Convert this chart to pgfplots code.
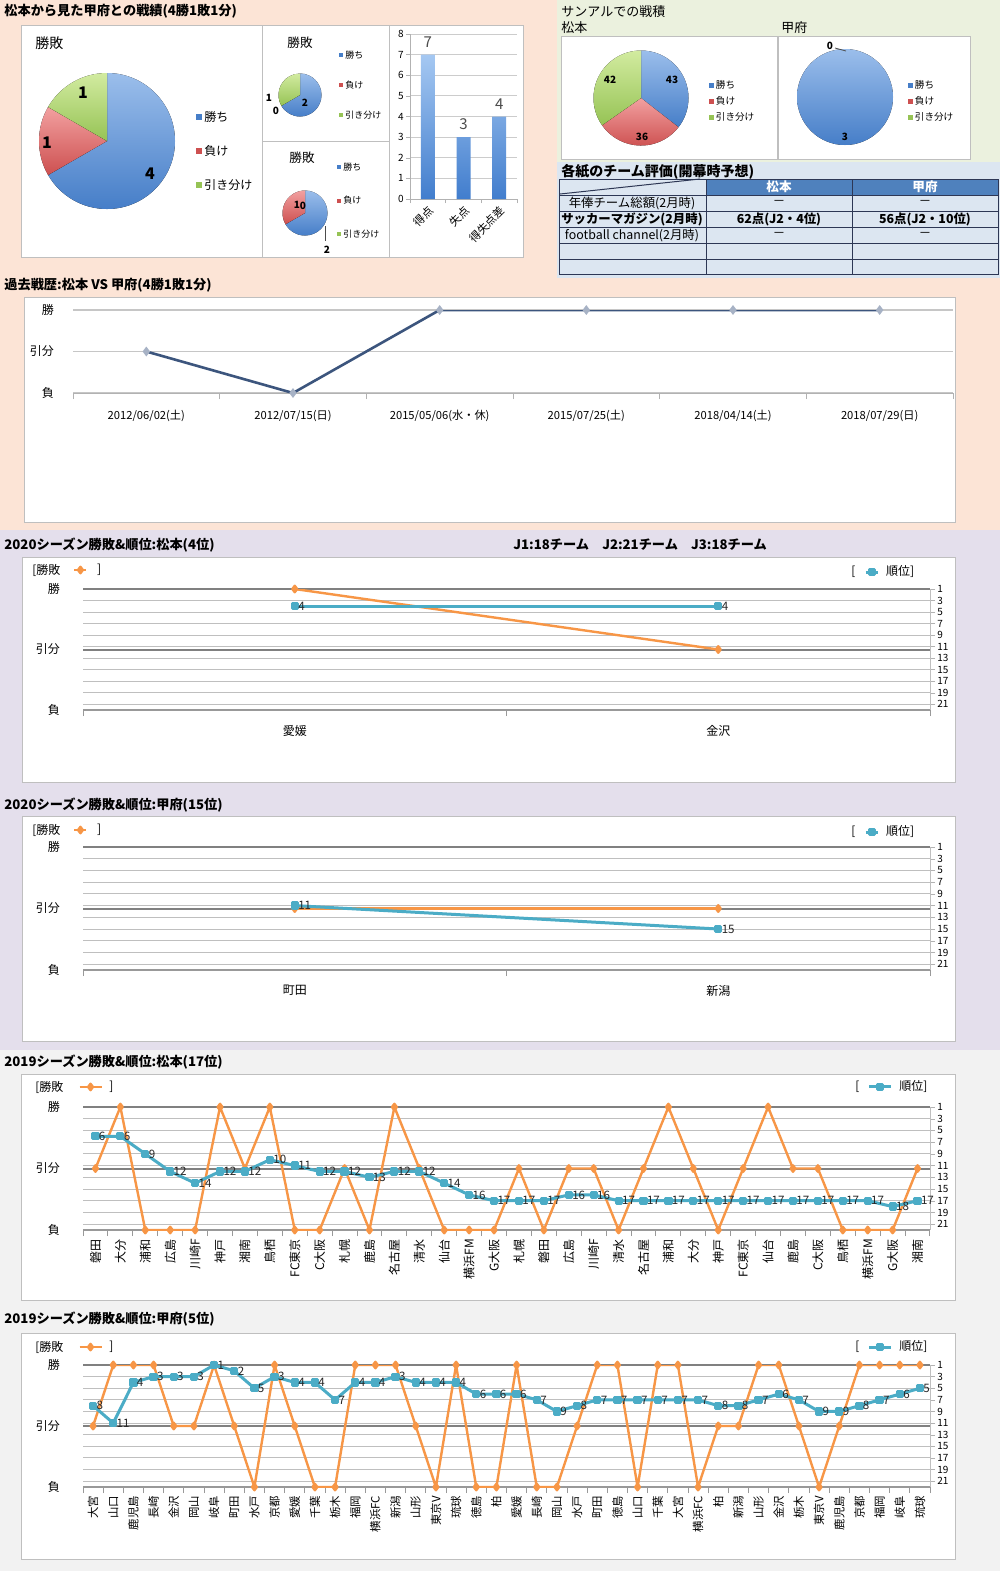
\documentclass[border=0pt]{standalone}
\usepackage{fontspec}
\setmainfont{Noto Sans CJK JP}
\usepackage{pgfplots}
\pgfplotsset{compat=1.18}
\usetikzlibrary{shapes.geometric}

\definecolor{peach}{RGB}{252,228,214}
\definecolor{greenbg}{RGB}{235,241,222}
\definecolor{tabbg}{RGB}{220,230,241}
\definecolor{lav}{RGB}{228,223,236}
\definecolor{grayb}{RGB}{242,242,242}
\definecolor{boxc}{RGB}{191,191,191}
\definecolor{orng}{RGB}{247,150,70}
\definecolor{tealc}{RGB}{75,172,198}
\definecolor{navy}{RGB}{60,85,125}
\definecolor{hdr}{RGB}{79,129,189}
\definecolor{tabl}{RGB}{45,55,85}
\definecolor{pbA}{RGB}{155,190,235}
\definecolor{pbB}{RGB}{70,126,200}
\definecolor{prA}{RGB}{242,160,160}
\definecolor{prB}{RGB}{205,80,80}
\definecolor{pgA}{RGB}{210,235,160}
\definecolor{pgB}{RGB}{150,195,85}
\definecolor{bbA}{RGB}{165,200,242}
\definecolor{bbB}{RGB}{65,125,205}

\newcommand\fz[1]{\fontsize{#1}{#1}\selectfont}
\newcommand\fT{\fz{6.6}\bfseries}

% pie: centre x, centre y, radius, win, loss, draw (clockwise from the top)
\newcommand\pie[6]{%
  \pgfmathsetmacro\ptot{#4+#5+#6}%
  \pgfmathsetmacro\pa{90-360*#4/\ptot}%
  \pgfmathsetmacro\pb{\pa-360*#5/\ptot}%
  \begin{scope}[shift={(#1,#2)},y=0.5pt]
    \ifnum#4>0 \fill[top color=pbA,bottom color=pbB] (0,0) -- (90:#3) arc[start angle=90,end angle=\pa,radius=#3] -- cycle;\fi
    \ifnum#5>0 \fill[top color=prA,bottom color=prB] (0,0) -- (\pa:#3) arc[start angle=\pa,end angle=\pb,radius=#3] -- cycle;\fi
    \ifnum#6>0 \fill[top color=pgA,bottom color=pgB] (0,0) -- (\pb:#3) arc[start angle=\pb,end angle=-270,radius=#3] -- cycle;\fi
  \end{scope}}
% pie legend: x, first y, step, square size, font size
\newcommand\pleg[5]{%
  \foreach \c/\t [count=\i from 0] in {pbB/勝ち,prB/負け,pgB/引き分け}{
    \fill[\c] ({#1-#4/2},{#2+\i*#3-#4/2}) rectangle ++(#4,#4);
    \node[anchor=west,inner sep=0pt,font=\fz{#5}] at ({#1+#4/2+2},{#2+\i*#3}) {\t};}}

\pgfplotsset{
  /pgf/number format/assume math mode=true,
  wl/.style={scale only axis, width=423.5pt, anchor=south west,
    ymin=-1, ymax=1, ytick={-1,0,1}, yticklabels={負,引分,勝},
    axis x line*=bottom, axis y line*=left, axis line style={-},
    y axis line style={draw=none}, ytick style={draw=none},
    x axis line style={gray!80, line width=0.6pt},
    ymajorgrids, major grid style={gray, line width=1pt},
    extra y ticks={0.8095,0.6190,0.4286,0.2381,0.0476,-0.1429,-0.3333,-0.5238,-0.7143,-0.9048},
    extra y tick labels={},
    extra y tick style={major grid style={gray!50, line width=0.5pt}, ytick style={draw=none}},
    xtick style={draw=none},
    extra x tick labels={},
    extra x tick style={xtick style={draw=gray!80, line width=0.5pt}, major tick length=3pt, tick align=outside},
    yticklabel style={font=\fz{6}, xshift=-8pt},
    legend style={anchor=west, draw=none, fill=none, inner sep=0pt, font=\fz{6}},
  },
  wr/.style={scale only axis, width=423.5pt, anchor=south west,
    ymin=1, ymax=22, y dir=reverse, ytick={1,3,...,21},
    hide x axis, axis y line*=right, axis line style={-},
    y axis line style={gray!50}, ytick style={gray!60}, tick align=outside, major tick length=2.5pt,
    yticklabel style={font=\fz{5}, inner sep=1pt},
    legend style={anchor=west, draw=none, fill=none, inner sep=0pt, font=\fz{6}},
  },
  lgLong/.style={legend image code/.code={\draw[mark repeat=2,mark phase=2,##1] plot coordinates {(0pt,0pt)(5.5pt,0pt)(11pt,0pt)};}},
  lgShort/.style={legend image code/.code={\draw[mark repeat=2,mark phase=2,##1] plot coordinates {(0pt,0pt)(3pt,0pt)(6pt,0pt)};}},
  orS/.style={orng, line width=1.2pt, line join=round, mark=diamond*, mark size=1.6pt, mark options={fill=orng, draw=orng}},
  blS/.style={tealc, line width=1.5pt, line join=round, mark=square*, mark size=1.3pt, mark options={fill=tealc, draw=tealc},
    nodes near coords, nodes near coords style={anchor=west, font=\fz{5.8}, text=black!85, inner sep=1pt}},
}

\begin{document}
\begin{tikzpicture}[x=0.5pt,y=-0.5pt]
\useasboundingbox (0,0) rectangle (1000,1571);
\fill[peach] (0,0) rectangle (1000,530);
\fill[greenbg] (557,0) rectangle (1000,162);
\fill[tabbg] (557,162) rectangle (1000,278);
\fill[lav] (0,530) rectangle (1000,1050);
\fill[grayb] (0,1050) rectangle (1000,1571);

% ---------- top left: results from Matsumoto's side
\node[anchor=west,inner sep=0pt,font=\fT] at (4,11) {松本から見た甲府との戦績(4勝1敗1分)};
\draw[boxc,fill=white,line width=0.5pt] (21,25) rectangle (262,257);
\draw[boxc,fill=white,line width=0.5pt] (262,25) rectangle (389,141);
\draw[boxc,fill=white,line width=0.5pt] (262,141) rectangle (389,257);
\draw[boxc,fill=white,line width=0.5pt] (389,25) rectangle (523,257);

\node[anchor=west,inner sep=0pt,font=\fz{7}] at (35,43) {勝敗};
\pie{107}{141}{68}{4}{1}{1}
\node[font=\fz{8}\bfseries] at (150,174) {4};
\node[font=\fz{8}\bfseries] at (47,143) {1};
\node[font=\fz{8}\bfseries] at (83,93) {1};
\pleg{199}{117}{34}{6}{6}

\node[anchor=west,inner sep=0pt,font=\fz{6.3}] at (287,43) {勝敗};
\pie{300}{95}{21.5}{2}{0}{1}
\node[font=\fz{5}\bfseries] at (305,103) {2};
\node[font=\fz{5}\bfseries] at (269,98) {1};
\node[font=\fz{5}\bfseries] at (276,111) {0};
\pleg{341}{55}{30}{4}{4.5}

\node[anchor=west,inner sep=0pt,font=\fz{6.3}] at (289,158) {勝敗};
\pie{305}{213}{22.5}{2}{1}{0}
\node[font=\fz{5}\bfseries] at (297,205) {1};
\node[font=\fz{5}\bfseries] at (303,206) {0};
\draw[black!70,line width=0.4pt] (325,226) -- (325,241);
\node[font=\fz{5}\bfseries] at (327,250) {2};
\pleg{339}{167}{33.5}{4}{4.5}

\coordinate (bc) at (410,199);
\begin{axis}[scale only axis, at={(bc)}, anchor=south west, width=53.5pt, height=82.5pt,
  xmin=0.5, xmax=3.5, ymin=0, ymax=8, ytick={0,...,8},
  ymajorgrids, major grid style={gray!40, line width=0.4pt},
  axis x line*=bottom, axis y line*=left, axis line style={-, gray!60},
  tick align=outside, major tick length=2pt,
  xtick={1,2,3}, xticklabels={得点,失点,得失点差}, xtick style={draw=none},
  ytick style={gray!60},
  extra x ticks={0.5,1.5,2.5,3.5}, extra x tick labels={},
  extra x tick style={xtick style={draw=gray!60}},
  xticklabel style={rotate=45, anchor=north east, font=\fz{5.6}, inner sep=0.5pt},
  yticklabel style={font=\fz{5}, inner sep=1pt},
  nodes near coords, nodes near coords style={font=\fz{7.5}, text=black!70}]
\addplot[ybar, bar width=7pt, draw=none, top color=bbA, bottom color=bbB] coordinates {(1,7) (2,3) (3,4)};
\end{axis}

% ---------- top right: sample results
\node[anchor=west,inner sep=0pt,font=\fz{6.5}] at (561,12) {サンアルでの戦積};
\node[anchor=west,inner sep=0pt,font=\fz{6.5}] at (561,28) {松本};
\node[anchor=west,inner sep=0pt,font=\fz{6.5}] at (781,28) {甲府};
\draw[boxc,fill=white,line width=0.5pt] (561,36) rectangle (777,159);
\draw[boxc,fill=white,line width=0.5pt] (778,36) rectangle (970,159);
\pie{641}{98}{47.5}{43}{36}{42}
\node[font=\fz{5}\bfseries] at (672,80) {43};
\node[font=\fz{5}\bfseries] at (642,137) {36};
\node[font=\fz{5}\bfseries] at (610,80) {42};
\pleg{711}{85}{16}{5}{4.8}
\pie{845}{97}{48}{3}{0}{0}
\node[font=\fz{5}\bfseries] at (845,137) {3};
\node[font=\fz{5}\bfseries] at (830,46) {0};
\draw[black!70,line width=0.4pt] (835,48) -- (846,51);
\pleg{910}{85}{16}{5}{4.8}

% ---------- table
\node[anchor=west,inner sep=0pt,font=\fz{7}\bfseries] at (561,172) {各紙のチーム評価(開幕時予想)};
\fill[hdr] (706,179) rectangle (998,195);
\draw[tabl,line width=0.5pt] (559,179) rectangle (998,274);
\foreach \yy in {195,211,227,243,259} \draw[tabl,line width=0.5pt] (559,\yy) -- (998,\yy);
\foreach \xx in {706,852} \draw[tabl,line width=0.5pt] (\xx,179) -- (\xx,274);
\draw[tabl,line width=0.5pt] (560,194) -- (700,179);
\node[font=\fz{6.3}\bfseries,text=white] at (779,187) {松本};
\node[font=\fz{6.3}\bfseries,text=white] at (925,187) {甲府};
\node[font=\fz{6.2}] at (632,203) {年俸チーム総額(2月時)};
\node[font=\fz{6.2}] at (779,203) {－};
\node[font=\fz{6.2}] at (925,203) {－};
\node[font=\fz{6.2}\bfseries] at (632,219) {サッカーマガジン(2月時)};
\node[font=\fz{6.2}\bfseries] at (779,219) {62点(J2・4位)};
\node[font=\fz{6.2}\bfseries] at (925,219) {56点(J2・10位)};
\node[font=\fz{6.2}] at (632,235) {football channel(2月時)};
\node[font=\fz{6.2}] at (779,235) {－};
\node[font=\fz{6.2}] at (925,235) {－};

% ---------- past matches
\node[anchor=west,inner sep=0pt,font=\fT] at (4,285) {過去戦歴:松本 VS 甲府(4勝1敗1分)};
\draw[boxc,fill=white,line width=0.5pt] (24,297) rectangle (955,522);
\coordinate (pr) at (73,393);
\begin{axis}[scale only axis, at={(pr)}, anchor=south west, width=440pt, height=41.5pt,
  xmin=0.5, xmax=6.5, ymin=-1, ymax=1, ytick={-1,0,1}, yticklabels={負,引分,勝},
  axis x line*=bottom, axis y line*=left, axis line style={-},
  y axis line style={draw=none}, ytick style={draw=none}, x axis line style={gray!60},
  ymajorgrids, major grid style={gray!45, line width=0.6pt},
  xtick={1,...,6}, xtick style={draw=none},
  xticklabels={2012/06/02(土),2012/07/15(日),2015/05/06(水・休),2015/07/25(土),2018/04/14(土),2018/07/29(日)},
  extra x ticks={0.5,1.5,...,6.5}, extra x tick labels={},
  extra x tick style={xtick style={draw=gray!60}, major tick length=3pt, tick align=outside},
  xticklabel style={font=\fz{5.6}, yshift=-5pt},
  yticklabel style={font=\fz{6}, xshift=-6pt}]
\addplot[navy, line width=1.3pt, mark=diamond*, mark size=1.4pt, mark options={fill=navy!45, draw=navy!45}]
  coordinates {(1,0) (2,-1) (3,1) (4,1) (5,1) (6,1)};
\end{axis}

% ---------- 2020 Matsumoto
\node[anchor=west,inner sep=0pt,font=\fT] at (4,545) {2020シーズン勝敗\&順位:松本(4位)};
\node[anchor=west,inner sep=0pt,font=\fT] at (513,545) {J1:18チーム\quad J2:21チーム\quad J3:18チーム};
\draw[boxc,fill=white,line width=0.5pt] (22,557) rectangle (955,782);
\node[anchor=west,inner sep=0pt,font=\fz{6}] at (32,570) {[勝敗};
\node[anchor=west,inner sep=0pt,font=\fz{6}] at (851,572) {[};
\coordinate (a20) at (83,710);
\begin{axis}[wl, lgShort, at={(a20)}, height=60.5pt, xmin=0.5, xmax=2.5,
  xtick={1,2}, xticklabels={愛媛,金沢}, extra x ticks={0.5,1.5,2.5},
  xticklabel style={font=\fz{6}, yshift=-4pt},
  legend style={at={(axis description cs:-0.012,1.157)}}]
\addplot[orS] coordinates {(1,1) (2,0)};
\legend{\ \ ]}
\end{axis}
\begin{axis}[wr, lgShort, at={(a20)}, height=60.5pt, xmin=0.5, xmax=2.5,
  legend style={at={(axis description cs:0.922,1.14)}}]
\addplot[blS] coordinates {(1,4) (2,4)};
\legend{\ 順位]}
\end{axis}

% ---------- 2020 Kofu
\node[anchor=west,inner sep=0pt,font=\fT] at (4,805) {2020シーズン勝敗\&順位:甲府(15位)};
\draw[boxc,fill=white,line width=0.5pt] (22,816) rectangle (955,1041);
\node[anchor=west,inner sep=0pt,font=\fz{6}] at (32,830) {[勝敗};
\node[anchor=west,inner sep=0pt,font=\fz{6}] at (851,832) {[};
\coordinate (b20) at (83,970);
\begin{axis}[wl, lgShort, at={(b20)}, height=61.5pt, xmin=0.5, xmax=2.5,
  xtick={1,2}, xticklabels={町田,新潟}, extra x ticks={0.5,1.5,2.5},
  xticklabel style={font=\fz{6}, yshift=-4pt},
  legend style={at={(axis description cs:-0.012,1.138)}}]
\addplot[orS] coordinates {(1,0) (2,0)};
\legend{\ \ ]}
\end{axis}
\begin{axis}[wr, lgShort, at={(b20)}, height=61.5pt, xmin=0.5, xmax=2.5,
  legend style={at={(axis description cs:0.922,1.122)}}]
\addplot[blS] coordinates {(1,11) (2,15)};
\legend{\ 順位]}
\end{axis}

% ---------- 2019 Matsumoto
\node[anchor=west,inner sep=0pt,font=\fT] at (4,1062) {2019シーズン勝敗\&順位:松本(17位)};
\draw[boxc,fill=white,line width=0.5pt] (21,1074) rectangle (955,1300);
\node[anchor=west,inner sep=0pt,font=\fz{6}] at (35,1087) {[勝敗};
\node[anchor=west,inner sep=0pt,font=\fz{6}] at (855,1087) {[};
\coordinate (a19) at (83,1230);
\begin{axis}[wl, lgLong, at={(a19)}, height=61.5pt, xmin=0.5, xmax=34.5,
  xtick={1,...,34},
  xticklabels={磐田,大分,浦和,広島,川崎F,神戸,湘南,鳥栖,FC東京,C大阪,札幌,鹿島,名古屋,清水,仙台,横浜FM,G大阪,札幌,磐田,広島,川崎F,清水,名古屋,浦和,大分,神戸,FC東京,仙台,鹿島,C大阪,鳥栖,横浜FM,G大阪,湘南},
  extra x ticks={0.5,1.5,...,34.5},
  xticklabel style={rotate=90, anchor=east, font=\fz{6}, xshift=-1pt},
  legend style={at={(axis description cs:-0.006,1.163)}}]
\addplot[orS] coordinates {(1,0) (2,1) (3,-1) (4,-1) (5,-1) (6,1) (7,0) (8,1) (9,-1) (10,-1)
  (11,0) (12,-1) (13,1) (14,0) (15,-1) (16,-1) (17,-1) (18,0) (19,-1) (20,0)
  (21,0) (22,-1) (23,0) (24,1) (25,0) (26,-1) (27,0) (28,1) (29,0) (30,0)
  (31,-1) (32,-1) (33,-1) (34,0)};
\legend{\ ]}
\end{axis}
\begin{axis}[wr, lgLong, at={(a19)}, height=61.5pt, xmin=0.5, xmax=34.5,
  legend style={at={(axis description cs:0.926,1.163)}}]
\addplot[blS] coordinates {(1,6) (2,6) (3,9) (4,12) (5,14) (6,12) (7,12) (8,10) (9,11) (10,12)
  (11,12) (12,13) (13,12) (14,12) (15,14) (16,16) (17,17) (18,17) (19,17) (20,16)
  (21,16) (22,17) (23,17) (24,17) (25,17) (26,17) (27,17) (28,17) (29,17) (30,17)
  (31,17) (32,17) (33,18) (34,17)};
\legend{\ 順位]}
\end{axis}

% ---------- 2019 Kofu
\node[anchor=west,inner sep=0pt,font=\fT] at (4,1319) {2019シーズン勝敗\&順位:甲府(5位)};
\draw[boxc,fill=white,line width=0.5pt] (21,1333) rectangle (955,1559);
\node[anchor=west,inner sep=0pt,font=\fz{6}] at (35,1347) {[勝敗};
\node[anchor=west,inner sep=0pt,font=\fz{6}] at (855,1347) {[};
\coordinate (b19) at (83,1487);
\begin{axis}[wl, lgLong, at={(b19)}, height=61pt, xmin=0.5, xmax=42.5,
  xtick={1,...,42},
  xticklabels={大宮,山口,鹿児島,長崎,金沢,岡山,岐阜,町田,水戸,京都,愛媛,千葉,栃木,福岡,横浜FC,新潟,山形,東京V,琉球,徳島,柏,愛媛,長崎,岡山,水戸,町田,徳島,山口,千葉,大宮,横浜FC,柏,新潟,山形,金沢,栃木,東京V,鹿児島,京都,福岡,岐阜,琉球},
  extra x ticks={0.5,1.5,...,42.5},
  xticklabel style={rotate=90, anchor=east, font=\fz{5.7}, xshift=-1pt},
  legend style={at={(axis description cs:-0.006,1.147)}}]
\addplot[orS] coordinates {(1,0) (2,1) (3,1) (4,1) (5,0) (6,0) (7,1) (8,0) (9,-1) (10,1)
  (11,0) (12,-1) (13,-1) (14,1) (15,1) (16,1) (17,0) (18,-1) (19,1) (20,-1)
  (21,-1) (22,1) (23,-1) (24,-1) (25,0) (26,1) (27,1) (28,-1) (29,1) (30,1)
  (31,-1) (32,0) (33,0) (34,1) (35,1) (36,0) (37,-1) (38,0) (39,1) (40,1)
  (41,1) (42,1)};
\legend{\ ]}
\end{axis}
\begin{axis}[wr, lgLong, at={(b19)}, height=61pt, xmin=0.5, xmax=42.5,
  legend style={at={(axis description cs:0.926,1.147)}}]
\addplot[blS] coordinates {(1,8) (2,11) (3,4) (4,3) (5,3) (6,3) (7,1) (8,2) (9,5) (10,3)
  (11,4) (12,4) (13,7) (14,4) (15,4) (16,3) (17,4) (18,4) (19,4) (20,6)
  (21,6) (22,6) (23,7) (24,9) (25,8) (26,7) (27,7) (28,7) (29,7) (30,7)
  (31,7) (32,8) (33,8) (34,7) (35,6) (36,7) (37,9) (38,9) (39,8) (40,7)
  (41,6) (42,5)};
\legend{\ 順位]}
\end{axis}
\end{tikzpicture}
\end{document}
